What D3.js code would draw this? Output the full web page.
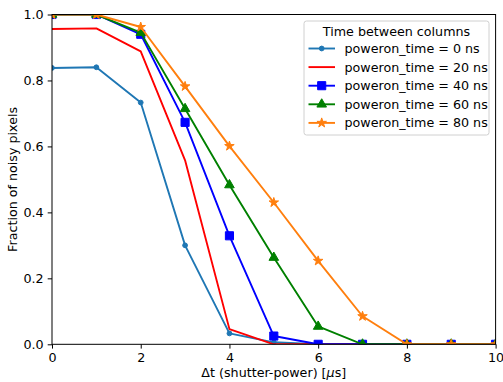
<!DOCTYPE html>
<html>
<head>
<meta charset="utf-8">
<script src="https://cdn.jsdelivr.net/npm/d3@7"></script>
<style>
  body { margin: 0; background: #fff; }
  text { font-family: "DejaVu Sans", sans-serif; }
</style>
</head>
<body>
<div id="chart"></div>
<script>
// x values: delta t (shutter-power) in microseconds
var dt = [0, 1, 2, 3, 4, 5, 6, 7, 8, 9, 10];

// fraction of noisy pixels, one list per poweron_time
var pt0 = [0.838, 0.840, 0.733, 0.300, 0.033, 0.006, 0, 0, 0, 0, 0];
var pt20 = [0.956, 0.958, 0.888, 0.558, 0.046, 0, 0, 0, 0, 0, 0];
var pt40 = [1.0, 1.0, 0.940, 0.673, 0.329, 0.025, 0, 0, 0, 0, 0];
var pt60 = [1.0, 1.0, 0.945, 0.714, 0.483, 0.263, 0.054, 0, 0, 0, 0];
var pt80 = [1.0, 1.0, 0.962, 0.782, 0.601, 0.430, 0.253, 0.085, 0, 0, 0];

var labels = ["poweron_time = 0 ns", "poweron_time = 20 ns", "poweron_time = 40 ns",
              "poweron_time = 60 ns", "poweron_time = 80 ns"];
var xTicks = [0, 2, 4, 6, 8, 10];
var yTicks = [0, 0.2, 0.4, 0.6, 0.8, 1.0];

var series = [
  {vals: pt0, color: "#1f77b4", marker: "dot"},
  {vals: pt20, color: "#ff0000", marker: null},
  {vals: pt40, color: "#0000ff", marker: "square"},
  {vals: pt60, color: "#008000", marker: "triangle"},
  {vals: pt80, color: "#ff7f0e", marker: "star"}
];

var W = 503, H = 382;
// plot box (don't call it "top", that's window.top)
var pLeft = 52, pRight = 495.6, pTop = 14.5, pBottom = 344.3;
var fs = "12.7px";

var svg = d3.select("#chart").append("svg")
    .attr("width", W).attr("height", H);

var x = d3.scaleLinear().domain([0, 10]).range([pLeft, pRight]);
var y = d3.scaleLinear().domain([0, 1]).range([pBottom, pTop]);

svg.append("defs").append("clipPath").attr("id", "plotclip")
  .append("rect").attr("x", pLeft).attr("y", pTop)
  .attr("width", pRight - pLeft).attr("height", pBottom - pTop);

function markerPath(kind) {
  if (kind == "dot") return d3.symbol().type(d3.symbolCircle).size(18)();
  if (kind == "square") return d3.symbol().type(d3.symbolSquare).size(66)();
  if (kind == "triangle") return d3.symbol().type(d3.symbolTriangle).size(40)();
  if (kind == "star") return d3.symbol().type(d3.symbolStar).size(28)();
  return null;
}

var plot = svg.append("g").attr("clip-path", "url(#plotclip)");

var line = d3.line()
    .x(function(d, i) { return x(dt[i]); })
    .y(function(d) { return y(d); });

series.forEach(function(s) {
  plot.append("path")
    .attr("d", line(s.vals))
    .attr("fill", "none")
    .attr("stroke", s.color)
    .attr("stroke-width", 1.9)
    .attr("stroke-linejoin", "round");

  if (s.marker) {
    plot.selectAll(null)
      .data(s.vals)
      .enter()
      .append("path")
      .attr("d", markerPath(s.marker))
      .attr("transform", function(d, i) { return "translate(" + x(dt[i]) + "," + y(d) + ")"; })
      .attr("fill", s.color)
      .attr("stroke", s.color)
      .attr("stroke-width", 1);
  }
});

// axes
var xAxis = d3.axisBottom(x).tickValues(xTicks).tickSize(4.3).tickPadding(4)
    .tickFormat(d3.format("d"));
var yAxis = d3.axisLeft(y).tickValues(yTicks).tickSize(4.3).tickPadding(4)
    .tickFormat(d3.format(".1f"));

var gx = svg.append("g").attr("transform", "translate(0," + pBottom + ")").call(xAxis);
var gy = svg.append("g").attr("transform", "translate(" + pLeft + ",0)").call(yAxis);

[gx, gy].forEach(function(g) {
  g.select(".domain").remove();
  g.selectAll("line").attr("stroke", "#000").attr("stroke-width", 1);
  g.selectAll("text").attr("font-size", fs).attr("fill", "#000")
    .style("font-family", "DejaVu Sans");
});

// frame
svg.append("rect")
  .attr("x", pLeft).attr("y", pTop)
  .attr("width", pRight - pLeft).attr("height", pBottom - pTop)
  .attr("fill", "none").attr("stroke", "#000").attr("stroke-width", 1);

// axis labels
svg.append("text")
  .attr("x", (pLeft + pRight) / 2).attr("y", 377)
  .attr("text-anchor", "middle").attr("font-size", fs)
  .html("Δt (shutter-power) [<tspan font-style='italic'>μ</tspan>s]");

svg.append("text")
  .attr("transform", "translate(17," + ((pTop + pBottom) / 2) + ") rotate(-90)")
  .attr("text-anchor", "middle").attr("font-size", fs)
  .text("Fraction of noisy pixels");

// legend
var lg = svg.append("g");
lg.append("rect")
  .attr("x", 304).attr("y", 21).attr("width", 185).attr("height", 114)
  .attr("rx", 2.5).attr("fill", "#fff").attr("fill-opacity", 0.8)
  .attr("stroke", "#d0d0d0").attr("stroke-width", 1);

lg.append("text")
  .attr("x", 396.5).attr("y", 35.5)
  .attr("text-anchor", "middle").attr("font-size", fs)
  .text("Time between columns");

series.forEach(function(s, i) {
  var cy = 48.5 + i * 18.6;
  lg.append("line")
    .attr("x1", 308.5).attr("x2", 335).attr("y1", cy).attr("y2", cy)
    .attr("stroke", s.color).attr("stroke-width", 1.9);
  if (s.marker) {
    lg.append("path")
      .attr("d", markerPath(s.marker))
      .attr("transform", "translate(321.7," + cy + ")")
      .attr("fill", s.color).attr("stroke", s.color).attr("stroke-width", 1);
  }
  lg.append("text")
    .attr("x", 344.5).attr("y", cy + 4.5)
    .attr("font-size", fs)
    .text(labels[i]);
});
</script>
</body>
</html>
